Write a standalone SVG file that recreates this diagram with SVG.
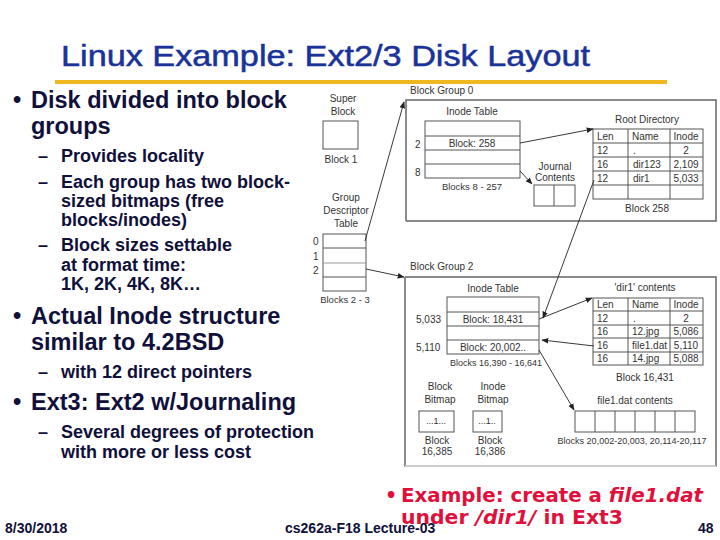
<svg xmlns="http://www.w3.org/2000/svg" width="720" height="540" viewBox="0 0 720 540">
<defs>
<marker id="ah" viewBox="0 0 10 10" refX="9" refY="5" markerWidth="7" markerHeight="7" orient="auto" markerUnits="userSpaceOnUse">
<path d="M0,1 L10,5 L0,9 z" fill="#222"/>
</marker>
<style>
.t{font-family:"Liberation Sans",Arial,sans-serif;fill:#333;font-size:10px}
.c{text-anchor:middle}
.s9{font-size:9px}
.s95{font-size:9.5px}
.bx{fill:#fff;stroke:#555;stroke-width:1}
.grp{fill:none;stroke:#666;stroke-width:1.5}
.ln{stroke:#555;stroke-width:1;fill:none}
.arr{stroke:#222;stroke-width:0.9;fill:none;marker-end:url(#ah)}
.b1{font-family:"Liberation Sans",Arial,sans-serif;font-weight:bold;font-size:23.5px;fill:#10103a}
.b2{font-family:"Liberation Sans",Arial,sans-serif;font-weight:bold;font-size:18px;fill:#10103a}
.ft{font-family:"Liberation Sans",Arial,sans-serif;font-weight:bold;font-size:14px;fill:#10103a}
.red{font-family:"DejaVu Sans",sans-serif;font-weight:bold;font-size:19px;fill:#e0103c}
</style>
</defs>
<rect width="720" height="540" fill="#fff"/>

<g id="title">
<text x="61" y="66" font-family="Liberation Sans, Arial, sans-serif" font-size="29" fill="#1a3399" stroke="#1a3399" stroke-width="0.5" textLength="529" lengthAdjust="spacingAndGlyphs">Linux Example: Ext2/3 Disk Layout</text>
<rect x="55" y="80" width="612" height="4" fill="#f0b820"/>
</g>

<g id="bullets">
<text class="b1" x="13" y="108">•</text>
<text class="b1" x="31" y="108">Disk divided into block</text>
<text class="b1" x="31" y="134">groups</text>
<text class="b2" x="38" y="162">–</text><text class="b2" x="61" y="162">Provides locality</text>
<text class="b2" x="38" y="188">–</text><text class="b2" x="61" y="188">Each group has two block-</text>
<text class="b2" x="61" y="207">sized bitmaps  (free</text>
<text class="b2" x="61" y="226">blocks/inodes)</text>
<text class="b2" x="38" y="251">–</text><text class="b2" x="61" y="251">Block sizes settable</text>
<text class="b2" x="61" y="271">at format time:</text>
<text class="b2" x="61" y="290">1K, 2K, 4K, 8K…</text>
<text class="b1" x="13" y="324">•</text>
<text class="b1" x="31" y="324">Actual Inode structure</text>
<text class="b1" x="31" y="350">similar to 4.2BSD</text>
<text class="b2" x="38" y="378">–</text><text class="b2" x="61" y="378">with 12 direct pointers</text>
<text class="b1" x="13" y="410">•</text>
<text class="b1" x="31" y="410">Ext3: Ext2 w/Journaling</text>
<text class="b2" x="38" y="438">–</text><text class="b2" x="61" y="438">Several degrees of protection</text>
<text class="b2" x="61" y="458">with more or less cost</text>
</g>

<g id="superblock">
<text class="t c" x="343" y="102">Super</text>
<text class="t c" x="343" y="115">Block</text>
<rect class="bx" x="323" y="121" width="35" height="28"/>
<text class="t c" x="341" y="163">Block 1</text>
</g>

<g id="gdt">
<text class="t c" x="346" y="201">Group</text>
<text class="t c" x="346" y="214">Descriptor</text>
<text class="t c" x="346" y="227">Table</text>
<rect class="bx" x="323" y="234" width="43" height="57"/>
<line class="ln" x1="323" y1="248" x2="366" y2="248"/>
<line class="ln" x1="323" y1="263" x2="366" y2="263" style="stroke:#999"/>
<line class="ln" x1="323" y1="277" x2="366" y2="277"/>
<text class="t" x="313" y="245">0</text>
<text class="t" x="313" y="260">1</text>
<text class="t" x="313" y="274">2</text>
<text class="t c s95" x="345" y="303">Blocks 2 - 3</text>
</g>

<g id="group0">
<text class="t" x="410" y="94">Block Group 0</text>
<polyline class="grp" points="406,221 406,100 716,100 716,221 406,221"/>
</g>

<g id="inodetable0">
<text class="t c" x="472" y="115">Inode Table</text>
<rect class="bx" x="425" y="121" width="95" height="57"/>
<line class="ln" x1="425" y1="136" x2="520" y2="136"/>
<line class="ln" x1="425" y1="150" x2="520" y2="150"/>
<line class="ln" x1="425" y1="164" x2="520" y2="164"/>
<text class="t" x="415" y="148">2</text>
<text class="t" x="415" y="176">8</text>
<text class="t c" x="472" y="147">Block: 258</text>
<text class="t c s95" x="472" y="190">Blocks 8 - 257</text>
</g>

<g id="journal">
<text class="t c" x="555" y="170">Journal</text>
<text class="t c" x="555" y="181">Contents</text>
<rect class="bx" x="534" y="185" width="41" height="21"/>
<line class="ln" x1="554" y1="185" x2="554" y2="206"/>
</g>

<g id="rootdir">
<text class="t c" x="647" y="123">Root Directory</text>
<rect class="bx" x="593" y="129" width="110" height="70"/>
<line class="ln" x1="593" y1="143" x2="703" y2="143"/>
<line class="ln" x1="593" y1="157" x2="703" y2="157"/>
<line class="ln" x1="593" y1="171" x2="703" y2="171"/>
<line class="ln" x1="593" y1="185" x2="703" y2="185"/>
<line class="ln" x1="628" y1="129" x2="628" y2="199"/>
<line class="ln" x1="670" y1="129" x2="670" y2="199"/>
<text class="t" x="597" y="140">Len</text><text class="t" x="632" y="140">Name</text><text class="t c" x="686" y="140">Inode</text>
<text class="t" x="597" y="154">12</text><text class="t" x="633" y="154">.</text><text class="t c" x="686" y="154">2</text>
<text class="t" x="597" y="168">16</text><text class="t" x="633" y="168">dir123</text><text class="t c" x="686" y="168">2,109</text>
<text class="t" x="597" y="182">12</text><text class="t" x="633" y="182">dir1</text><text class="t c" x="686" y="182">5,033</text>
<text class="t c" x="647" y="212">Block 258</text>
</g>

<g id="group2">
<text class="t" x="410" y="270">Block Group 2</text>
<polyline class="grp" points="405,277 716,277 716,466 405,466 405,277"/>
<line x1="405" y1="466" x2="716" y2="466" stroke="#ccc" stroke-width="2"/>
</g>

<g id="inodetable2">
<text class="t c" x="493" y="292">Inode Table</text>
<rect class="bx" x="447" y="297" width="92" height="57"/>
<line class="ln" x1="447" y1="312" x2="539" y2="312"/>
<line class="ln" x1="447" y1="326" x2="539" y2="326"/>
<line class="ln" x1="447" y1="340" x2="539" y2="340"/>
<text class="t" x="416" y="323">5,033</text>
<text class="t" x="416" y="351">5,110</text>
<text class="t c" x="493" y="323">Block: 18,431</text>
<text class="t c" x="493" y="351">Block: 20,002..</text>
<text class="t c s9" x="496" y="366">Blocks 16,390 - 16,641</text>
</g>

<g id="dir1">
<text class="t c" x="645" y="291">'dir1' contents</text>
<rect class="bx" x="593" y="298" width="110" height="67"/>
<line class="ln" x1="593" y1="311" x2="703" y2="311"/>
<line class="ln" x1="593" y1="325" x2="703" y2="325"/>
<line class="ln" x1="593" y1="338" x2="703" y2="338"/>
<line class="ln" x1="593" y1="352" x2="703" y2="352"/>
<line class="ln" x1="628" y1="298" x2="628" y2="365"/>
<line class="ln" x1="670" y1="298" x2="670" y2="365"/>
<text class="t" x="597" y="308">Len</text><text class="t" x="632" y="308">Name</text><text class="t c" x="686" y="308">Inode</text>
<text class="t" x="597" y="322">12</text><text class="t" x="633" y="322">.</text><text class="t c" x="686" y="322">2</text>
<text class="t" x="597" y="335">16</text><text class="t" x="632" y="335">12.jpg</text><text class="t c" x="686" y="335">5,086</text>
<text class="t" x="597" y="349">16</text><text class="t" x="632" y="349">file1.dat</text><text class="t c" x="686" y="349">5,110</text>
<text class="t" x="597" y="362">16</text><text class="t" x="632" y="362">14.jpg</text><text class="t c" x="686" y="362">5,088</text>
<text class="t c" x="645" y="381">Block 16,431</text>
</g>

<g id="blockbitmap">
<text class="t c" x="440" y="390">Block</text>
<text class="t c" x="440" y="403">Bitmap</text>
<rect class="bx" x="419" y="411" width="35" height="21"/>
<text class="t c s9" x="436" y="424">...1...</text>
<text class="t c" x="437" y="444">Block</text>
<text class="t c" x="437" y="455">16,385</text>
</g>

<g id="inodebitmap">
<text class="t c" x="493" y="390">Inode</text>
<text class="t c" x="493" y="403">Bitmap</text>
<rect class="bx" x="473" y="411" width="29" height="21"/>
<text class="t c s9" x="487" y="424">...1..</text>
<text class="t c" x="490" y="444">Block</text>
<text class="t c" x="490" y="455">16,386</text>
</g>

<g id="filecontents">
<text class="t c" x="635" y="404">file1.dat contents</text>
<rect class="bx" x="575" y="411" width="120" height="21"/>
<line class="ln" x1="595" y1="411" x2="595" y2="432"/>
<line class="ln" x1="615" y1="411" x2="615" y2="432"/>
<line class="ln" x1="635" y1="411" x2="635" y2="432"/>
<line class="ln" x1="655" y1="411" x2="655" y2="432"/>
<line class="ln" x1="675" y1="411" x2="675" y2="432"/>
<text class="t c s9" x="632" y="444">Blocks 20,002-20,003, 20,114-20,117</text>
</g>

<g id="connectors">
<line class="arr" x1="365" y1="241" x2="404" y2="102"/>
<line class="arr" x1="366" y1="269" x2="404" y2="277"/>
<line class="arr" x1="520" y1="143" x2="593" y2="129"/>
<line class="arr" x1="520" y1="171" x2="532" y2="184"/>
<line class="arr" x1="594" y1="180" x2="543" y2="318"/>
<line class="arr" x1="539" y1="319" x2="592" y2="298"/>
<line class="arr" x1="594" y1="346" x2="542" y2="340"/>
<line class="arr" x1="539" y1="350" x2="574" y2="410"/>
</g>

<g id="note">
<text class="red" x="385" y="502">•</text>
<text class="red" x="401" y="502" textLength="302" lengthAdjust="spacingAndGlyphs">Example: create a <tspan font-style="italic">file1.dat</tspan></text>
<text class="red" x="401" y="524" textLength="222" lengthAdjust="spacingAndGlyphs">under <tspan font-style="italic">/dir1/</tspan> in Ext3</text>
</g>

<g id="footer">
<text class="ft" x="5" y="533">8/30/2018</text>
<text class="ft" x="285" y="533">cs262a-F18 Lecture-03</text>
<text class="ft" x="698" y="533">48</text>
</g>
</svg>
